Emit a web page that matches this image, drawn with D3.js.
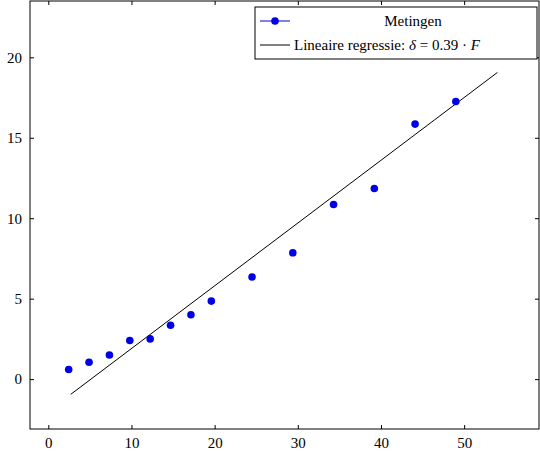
<!DOCTYPE html><html><head><script src="https://cdn.jsdelivr.net/npm/d3@7"></script>
<style>body{margin:0;background:#fff}text{font-family:"Liberation Serif",serif}</style></head><body><svg id="c" width="540" height="453"></svg>
<script>
const forces=[2.45,4.9,7.35,9.8,12.25,14.7,17.15,19.6,24.5,29.4,34.3,39.2,44.1,49];
const deltas=[0.6,1.05,1.5,2.4,2.5,3.35,4.0,4.85,6.35,7.85,10.85,11.85,15.85,17.25];
const lineF=[2.7,54];
const slope=0.39, intercept=-2.0;
const xTicks=[0,10,20,30,40,50], yTicks=[0,5,10,15,20];
const svg=d3.select("#c");
const L=30,R=539,T=1,B=429;
const x=d3.scaleLinear().domain([-2.2,59]).range([L,R]);
const y=d3.scaleLinear().domain([-3.1,23.5]).range([B,T]);
svg.append("rect").attr("x",L).attr("y",T).attr("width",R-L).attr("height",B-T).attr("fill","none").attr("stroke","#000");
const xa=svg.append("g").attr("transform",`translate(0,${B})`).call(d3.axisBottom(x).tickValues(xTicks).tickSize(-4).tickPadding(8));
const xa2=svg.append("g").attr("transform",`translate(0,${T})`).call(d3.axisTop(x).tickValues(xTicks).tickSize(-4).tickFormat(""));
const ya=svg.append("g").attr("transform",`translate(${L},0)`).call(d3.axisLeft(y).tickValues(yTicks).tickSize(-4).tickPadding(8));
const ya2=svg.append("g").attr("transform",`translate(${R},0)`).call(d3.axisRight(y).tickValues(yTicks).tickSize(-4).tickFormat(""));
[xa,xa2,ya,ya2].forEach(a=>{a.select(".domain").remove();a.selectAll("text").attr("font-size",15).attr("font-family","Liberation Serif");});
svg.append("path").attr("d",d3.line()(lineF.map(f=>[x(f),y(slope*f+intercept)]))).attr("stroke","#000").attr("fill","none");
svg.selectAll("circle.p").data(forces).join("circle").attr("cx",d=>x(d)).attr("cy",(d,i)=>y(deltas[i])).attr("r",3.8).attr("fill","#0000e6");
const g=svg.append("g");
g.append("rect").attr("x",255).attr("y",7).attr("width",282).attr("height",52).attr("fill","#fff").attr("stroke","#000");
g.append("line").attr("x1",260).attr("x2",290).attr("y1",21).attr("y2",21).attr("stroke","#0000e6");
g.append("circle").attr("cx",275).attr("cy",21).attr("r",3.8).attr("fill","#0000e6");
g.append("text").attr("x",413).attr("y",26).attr("text-anchor","middle").attr("font-size",15).text("Metingen");
g.append("line").attr("x1",260).attr("x2",290).attr("y1",45).attr("y2",45).attr("stroke","#000");
const t=g.append("text").attr("x",294).attr("y",50).attr("font-size",15);
t.append("tspan").text("Lineaire regressie:  ");
t.append("tspan").attr("font-style","italic").text("δ");
t.append("tspan").text(" = 0.39 · ");
t.append("tspan").attr("font-style","italic").text("F");
</script></body></html>
